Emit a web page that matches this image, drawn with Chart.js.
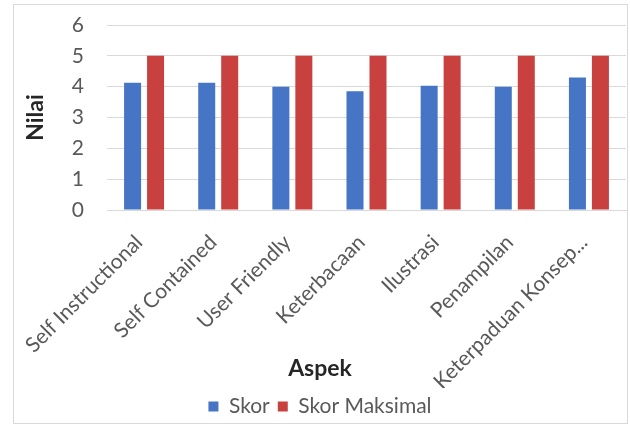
<!DOCTYPE html>
<html>
<head>
<meta charset="utf-8">
<script src="https://cdn.jsdelivr.net/npm/chart.js@4"></script>
<style>
  html, body { margin: 0; padding: 0; background: #fff; }
  #frame {
    position: absolute;
    left: 13px;
    top: 4px;
    width: 613px;
    height: 418px;
    border: 1px solid #d9d9d9;
  }
</style>
</head>
<body>
<div id="frame"><canvas id="myChart" width="613" height="418"></canvas></div>
<script>
// Aspek yang dinilai
const aspek = [
  "Self Instructional",
  "Self Contained",
  "User Friendly",
  "Keterbacaan",
  "Ilustrasi",
  "Penampilan",
  "Keterpaduan Konsep...",
];
// Skor rata-rata tiap aspek
const skor = [4.13, 4.13, 4.0, 3.85, 4.03, 4.0, 4.3];
// Skor maksimal tiap aspek
const skorMaksimal = [5, 5, 5, 5, 5, 5, 5];
// Tick sumbu Y
const yMin = 0;
const yMax = 6;
const yStep = 1;

const FONT = "Lato, 'Open Sans', sans-serif";
const GRAY = "#595959";

function main() {
  const cfg = {
    type: "bar",
    data: {
      labels: aspek,
      datasets: [
        {
          label: "Skor",
          data: skor,
          backgroundColor: "#4575c4",
          categoryPercentage: 0.62,
          barPercentage: 0.74,
        },
        {
          label: "Skor Maksimal",
          data: skorMaksimal,
          backgroundColor: "#c8413f",
          categoryPercentage: 0.62,
          barPercentage: 0.74,
        },
      ],
    },
    options: {
      responsive: false,
      animation: false,
      layout: {
        padding: { top: 20, right: 1, left: 0, bottom: -4 },
      },
      plugins: {
        tooltip: { enabled: false },
        // judul sumbu X lewat plugin title (di tengah kanvas);
        // tinggi kotaknya dibuat 0 supaya label X yang miring tidak terpotong
        title: {
          display: true,
          text: "Aspek",
          position: "bottom",
          weight: 500, // di atas legenda
          color: "#262626",
          font: { family: FONT, size: 23, weight: "bold", lineHeight: 1.2 },
          padding: { top: -33, bottom: 5.4 },
        },
        legend: {
          display: true,
          position: "bottom",
          labels: {
            color: GRAY,
            boxWidth: 10,
            boxHeight: 10,
            padding: 8,
            font: { family: FONT, size: 21 },
          },
        },
      },
      scales: {
        x: {
          grid: { display: false },
          border: { color: "#d9d9d9" },
          ticks: {
            autoSkip: false,
            minRotation: 45,
            maxRotation: 45,
            padding: 12,
            labelOffset: -5,
            color: GRAY,
            font: { family: FONT, size: 21 },
          },
          afterFit: (scale) => {
            scale.height = 178;
          },
        },
        y: {
          min: yMin,
          max: yMax,
          // jarak label ke plot lewat tickLength, bukan ticks.padding
          grid: { color: "#d9d9d9", drawTicks: true, tickLength: 21, tickColor: "transparent" },
          border: { display: false },
          ticks: {
            stepSize: yStep,
            padding: 2,
            color: GRAY,
            font: { family: FONT, size: 21 },
          },
          title: {
            display: true,
            text: "Nilai",
            color: "#262626",
            font: { family: FONT, size: 23, weight: "bold" },
            padding: { top: 8 },
          },
          afterFit: (scale) => {
            scale.width = 93;
          },
        },
      },
    },
  };

  const ctx = document.getElementById("myChart");

  new Chart(ctx, cfg);
}

main();
</script>
</body>
</html>
